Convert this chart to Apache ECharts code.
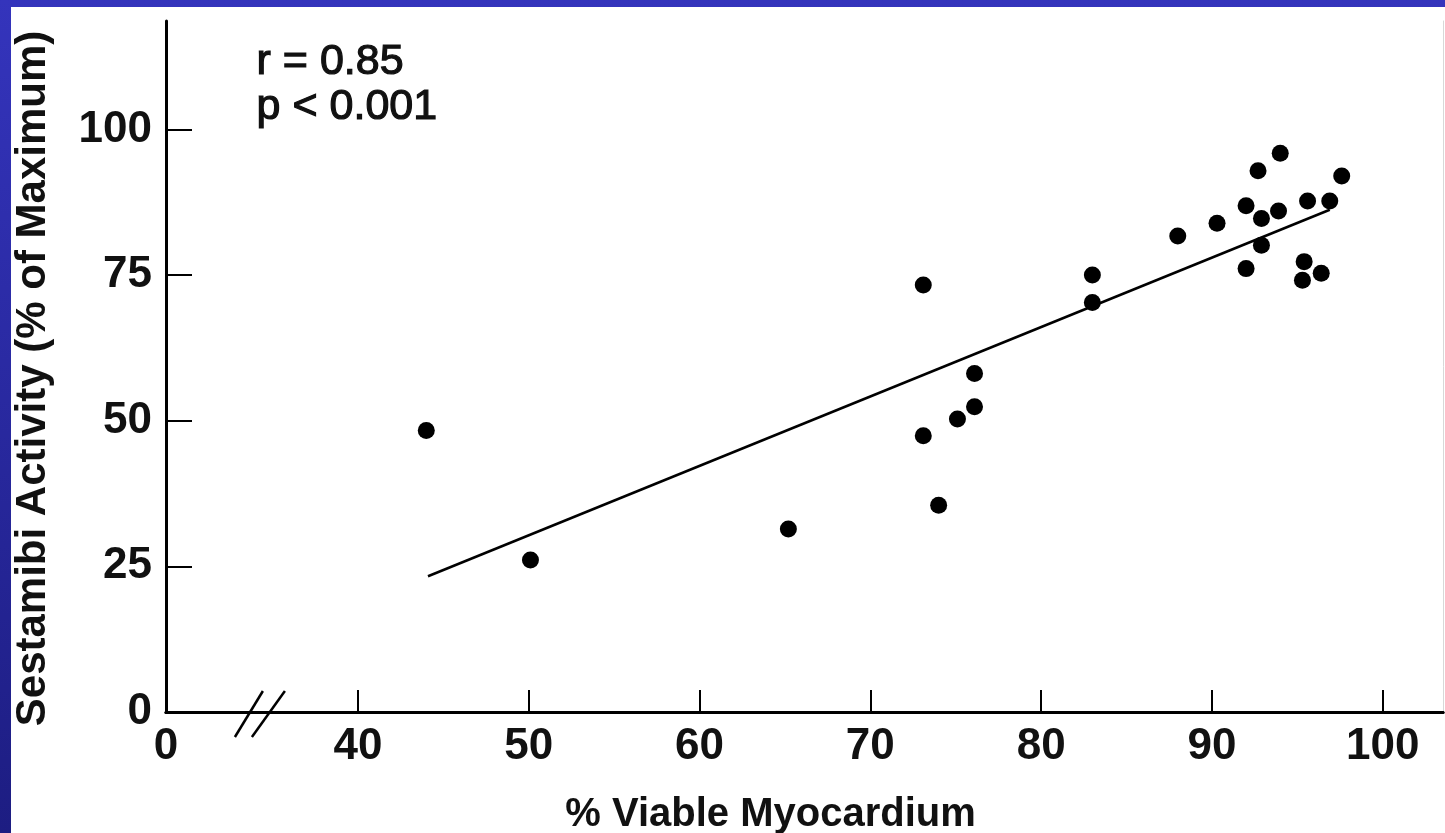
<!DOCTYPE html>
<html>
<head>
<meta charset="utf-8">
<script src="https://cdn.jsdelivr.net/npm/echarts@6/dist/echarts.min.js"></script>
<style>
  html, body {
    margin: 0;
    padding: 0;
    width: 1445px;
    height: 833px;
    overflow: hidden;
    background: linear-gradient(#3434bc, #1d1d82);
  }
  #chart {
    position: absolute;
    left: 11px;
    top: 7px;
    width: 1434px;
    height: 826px;
    background: #ffffff;
  }
</style>
</head>
<body>
<div id="chart"></div>
<script>
// values
const viable = [44.0, 50.1, 65.2, 73.1, 73.1, 74.0, 75.1, 76.1, 76.1, 83.0, 83.0, 88.0, 90.3,
  92.0, 92.0, 92.7, 92.9, 92.9, 94.0, 93.9, 95.6, 95.4, 95.3, 96.4, 96.9, 97.6];
const sestamibi = [48.3, 26.1, 31.4, 73.3, 47.4, 35.5, 50.3, 58.1, 52.4, 75.0, 70.3, 81.7, 83.9,
  86.9, 76.1, 92.9, 84.7, 80.1, 95.9, 86.0, 87.7, 77.3, 74.1, 75.3, 87.7, 92.0];
const fitX = [44.1, 96.9];
const fitY = [23.3, 86.2];
const xTicks = [40, 50, 60, 70, 80, 90, 100];
const yTicks = [0, 25, 50, 75, 100];
const stats = ['r = 0.85', 'p < 0.001'];

const xMin = 28.76;
const xMax = 103.53;
const yMax = 118.6;
const breakAt = 34.2;

const font = 'Liberation Sans, Arial, Helvetica, sans-serif';

const chart = echarts.init(document.getElementById('chart'));

const option = {
  animation: false,
  grid: {
    left: 155,
    right: 2,
    top: 14,
    bottom: 121,
    show: false,
    containLabel: false,
    outerBoundsMode: 'none'
  },
  xAxis: [
    {
      type: 'value',
      min: xMin,
      max: xMax,
      name: '% Viable Myocardium',
      nameLocation: 'middle',
      nameGap: 83,
      nameTextStyle: {
        fontFamily: font,
        fontSize: 40,
        fontWeight: 'bold',
        color: '#111',
        padding: [0, 68, 0, 0]
      },
      axisLine: { lineStyle: { color: '#000', width: 3 } },
      axisTick: {
        inside: true,
        length: 22,
        lineStyle: { color: '#000', width: 2 },
        customValues: xTicks
      },
      axisLabel: {
        customValues: [xMin].concat(xTicks),
        formatter: v => (v < 35 ? '0' : String(v)),
        fontFamily: font,
        fontSize: 44,
        fontWeight: 'bold',
        color: '#111',
        margin: 13
      },
      splitLine: { show: false }
    },
    {
      type: 'value',
      position: 'top',
      min: xMin,
      max: xMax,
      axisLine: { show: true, lineStyle: { color: '#000', width: 3 } },
      axisTick: { show: false },
      axisLabel: { show: false },
      splitLine: { show: false }
    }
  ],
  yAxis: [
    {
      type: 'value',
      min: 0,
      max: yMax,
      name: 'Sestamibi Activity (% of Maximum)',
      nameLocation: 'middle',
      nameGap: 112,
      nameTextStyle: {
        fontFamily: font,
        fontSize: 42,
        fontWeight: 'bold',
        color: '#111',
        padding: [0, 24, 0, 0]
      },
      axisLine: { lineStyle: { color: '#000', width: 3 } },
      axisTick: {
        inside: true,
        length: 26,
        lineStyle: { color: '#000', width: 2 },
        customValues: yTicks.slice(1)
      },
      axisLabel: {
        customValues: yTicks,
        fontFamily: font,
        fontSize: 44,
        fontWeight: 'bold',
        color: '#111',
        margin: 14
      },
      splitLine: { show: false }
    },
    {
      type: 'value',
      position: 'right',
      min: 0,
      max: yMax,
      axisLine: { show: true, lineStyle: { color: '#d8d8d8', width: 1 } },
      axisTick: { show: false },
      axisLabel: { show: false },
      splitLine: { show: false }
    }
  ],
  series: [
    {
      type: 'scatter',
      data: viable.map((x, i) => [x, sestamibi[i]]),
      symbol: 'circle',
      symbolSize: 17,
      itemStyle: { color: '#000', opacity: 1 }
    },
    {
      type: 'line',
      data: fitX.map((x, i) => [x, fitY[i]]),
      symbol: 'none',
      lineStyle: { color: '#000', width: 2.5 }
    }
  ]
};

chart.setOption(option);

// stats text and the axis break mark on the x axis
const p = chart.convertToPixel({ gridIndex: 0 }, [breakAt, 0]);
chart.setOption({
  graphic: [
    {
      id: 'stats',
      type: 'text',
      left: 245,
      top: 33,
      style: {
        text: stats.join('\n'),
        fontFamily: font,
        fontSize: 43,
        fontWeight: 'normal',
        lineHeight: 45,
        fill: '#111',
        stroke: '#111',
        lineWidth: 1.2
      }
    },
    {
      id: 'break1',
      type: 'line',
      shape: { x1: p[0] - 24, y1: p[1] + 25, x2: p[0] + 4, y2: p[1] - 21 },
      style: { stroke: '#000', lineWidth: 2.5 }
    },
    {
      id: 'break2',
      type: 'line',
      shape: { x1: p[0] - 7, y1: p[1] + 25, x2: p[0] + 26, y2: p[1] - 21 },
      style: { stroke: '#000', lineWidth: 2.5 }
    }
  ]
});
</script>
</body>
</html>
